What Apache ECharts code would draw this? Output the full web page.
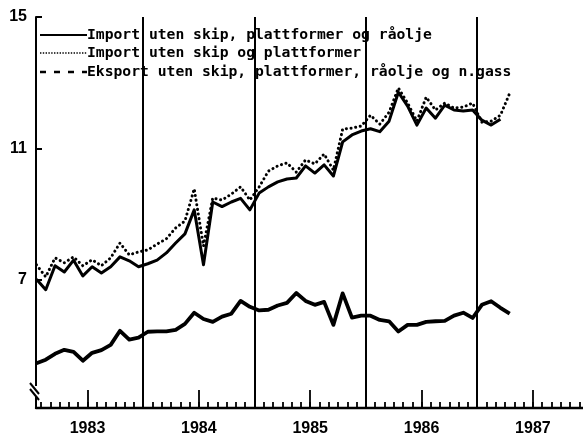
<!DOCTYPE html>
<html>
<head>
<meta charset="utf-8">
<script src="https://cdn.jsdelivr.net/npm/echarts@6/dist/echarts.min.js"></script>
<style>
  html, body { margin: 0; padding: 0; background: #fff; }
  #chart { width: 583px; height: 439px; }
</style>
</head>
<body>
<div id="chart"></div>
<script>
// Monthly series, January 1983 onwards (mrd. kr, sesongjustert)
const importNoOil = [
  7.02, 6.70, 7.43, 7.24, 7.60, 7.12, 7.40, 7.21, 7.40, 7.70, 7.58, 7.40,
  7.49, 7.60, 7.82, 8.12, 8.40, 9.13, 7.46, 9.37, 9.23, 9.37, 9.48, 9.13,
  9.64, 9.83, 9.98, 10.07, 10.10, 10.47, 10.25, 10.50, 10.16, 11.20, 11.41, 11.53,
  11.60, 11.51, 11.83, 12.71, 12.29, 11.71, 12.23, 11.92, 12.32, 12.17, 12.14, 12.17,
  11.86, 11.71, 11.89
];
const importAll = [
  7.46, 7.09, 7.67, 7.52, 7.70, 7.43, 7.61, 7.43, 7.67, 8.12, 7.76, 7.85,
  7.91, 8.09, 8.25, 8.58, 8.79, 9.77, 8.03, 9.49, 9.43, 9.61, 9.83, 9.43,
  9.83, 10.31, 10.47, 10.56, 10.28, 10.65, 10.53, 10.83, 10.34, 11.59, 11.62, 11.68,
  12.01, 11.74, 12.10, 12.84, 12.38, 11.83, 12.56, 12.17, 12.38, 12.23, 12.26, 12.38,
  11.80, 11.83, 12.01, 12.68
];
const exportVals = [
  4.46, 4.57, 4.75, 4.87, 4.81, 4.54, 4.78, 4.86, 5.02, 5.45, 5.18, 5.24,
  5.42, 5.43, 5.43, 5.48, 5.66, 6.00, 5.81, 5.72, 5.88, 5.97, 6.36, 6.18,
  6.07, 6.09, 6.22, 6.30, 6.60, 6.36, 6.24, 6.33, 5.63, 6.59, 5.85, 5.91,
  5.91, 5.78, 5.74, 5.43, 5.63, 5.63, 5.72, 5.74, 5.75, 5.91, 6.00, 5.84,
  6.24, 6.35, 6.15, 5.97
];
const seriesNames = [
  'Import uten skip, plattformer og råolje',
  'Import uten skip og plattformer',
  'Eksport uten skip, plattformer, råolje og n.gass'
];
const yearLabels = ['1983', '1984', '1985', '1986', '1987'];
const valueTicks = [7, 11, 15];

// x is measured in months from 1 Jan 1983; each value sits mid-month
const toPoints = arr => arr.map((v, i) => [i + 0.5, v]);
const monthTicks = [];
for (let m = 1; m <= 59; m++) monthTicks.push(m);
const midYears = yearLabels.map((_, k) => 6 + 12 * k);
const yearStarts = yearLabels.slice(1).map((_, k) => 12 * (k + 1));

const FONT_MONO = '"DejaVu Sans Mono", "Liberation Mono", monospace';
const FONT_SANS = '"Liberation Sans", Arial, sans-serif';

// key: line sample + caption per series
const keyRows = [
  { y: 35, dash: null, width: 2.2 },
  { y: 53, dash: [1.4, 1.4], width: 1.6 },
  { y: 72, dash: [6, 8], width: 2.4 }
];
const keyGraphics = [];
keyRows.forEach((row, i) => {
  keyGraphics.push({
    type: 'line', z: 50,
    shape: { x1: 40, y1: row.y, x2: 87, y2: row.y },
    style: { stroke: '#000', lineWidth: row.width, lineDash: row.dash }
  });
  keyGraphics.push({
    type: 'text', z: 51, x: 87, y: row.y,
    style: {
      text: seriesNames[i], fill: '#000',
      font: 'bold 14.7px ' + FONT_MONO,
      textAlign: 'left', textVerticalAlign: 'middle', verticalAlign: 'middle'
    }
  });
});

const chart = echarts.init(document.getElementById('chart'), null, { renderer: 'canvas' });

const option = {
  animation: false,
  backgroundColor: '#ffffff',
  grid: { left: 36, right: 0, top: 17, bottom: 31, containLabel: false, outerBoundsMode: 'none' },
  xAxis: [
    {
      type: 'value', min: 0.45, max: 59.4, position: 'bottom',
      axisLine: { show: true, onZero: false, lineStyle: { color: '#000', width: 2.4 } },
      axisTick: { show: true, inside: true, length: 6, customValues: monthTicks, lineStyle: { color: '#000', width: 1.8 } },
      axisLabel: { show: false },
      splitLine: { show: false }
    },
    {
      type: 'value', min: 0.45, max: 59.4, position: 'bottom',
      axisLine: { show: false },
      axisTick: { show: true, inside: true, length: 18, customValues: midYears, lineStyle: { color: '#000', width: 1.8 } },
      axisLabel: {
        show: true, margin: 13, customValues: midYears,
        formatter: v => yearLabels[Math.round((v - 6) / 12)],
        fontFamily: FONT_SANS, fontWeight: 'bold', fontSize: 16, color: '#000'
      },
      splitLine: { show: false }
    }
  ],
  yAxis: {
    type: 'value', min: 3.1, max: 15,
    axisLine: { show: true, onZero: false, lineStyle: { color: '#000', width: 2 } },
    axisTick: { show: true, inside: true, length: 6, customValues: valueTicks, lineStyle: { color: '#000', width: 2 } },
    axisLabel: {
      show: true, margin: 9, customValues: valueTicks,
      fontFamily: FONT_SANS, fontWeight: 'bold', fontSize: 16, color: '#000'
    },
    splitLine: { show: false }
  },
  series: [
    {
      name: seriesNames[0], type: 'line', xAxisIndex: 0,
      data: toPoints(importNoOil),
      symbol: 'none', z: 4,
      lineStyle: { color: '#000', width: 3, join: 'round' },
      itemStyle: { color: '#000' },
      markLine: {
        silent: true, symbol: ['none', 'none'], animation: false,
        label: { show: false },
        lineStyle: { color: '#000', width: 2, type: 'solid' },
        emphasis: { disabled: true },
        data: yearStarts.map(x => ({ xAxis: x }))
      }
    },
    {
      name: seriesNames[1], type: 'line', xAxisIndex: 0,
      data: toPoints(importAll),
      symbol: 'none', z: 3,
      lineStyle: { color: '#000', width: 3, type: [0.1, 4.6], cap: 'round' },
      itemStyle: { color: '#000' }
    },
    {
      name: seriesNames[2], type: 'line', xAxisIndex: 0,
      data: toPoints(exportVals),
      symbol: 'none', z: 4,
      lineStyle: { color: '#000', width: 3.8, join: 'round' },
      itemStyle: { color: '#000' }
    }
  ],
  graphic: keyGraphics.concat([
    // axis break on the value axis
    { type: 'rect', shape: { x: 33, y: 386, width: 6, height: 11 }, style: { fill: '#fff' }, z: 100 },
    { type: 'line', shape: { x1: 30, y1: 383, x2: 39, y2: 394 }, style: { stroke: '#000', lineWidth: 2 }, z: 101 },
    { type: 'line', shape: { x1: 30, y1: 389, x2: 39, y2: 400 }, style: { stroke: '#000', lineWidth: 2 }, z: 101 }
  ])
};

chart.setOption(option);
</script>
</body>
</html>
